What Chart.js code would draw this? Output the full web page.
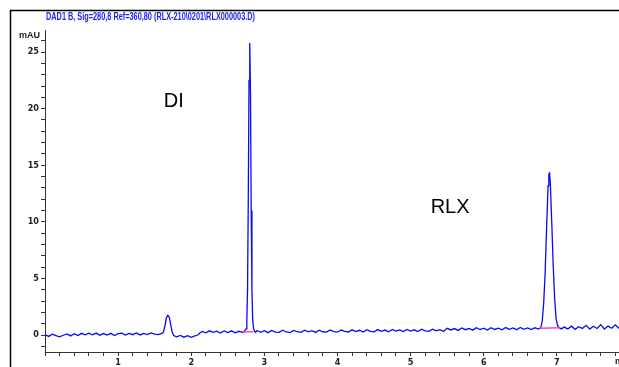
<!DOCTYPE html>
<html>
<head>
<meta charset="utf-8">
<script src="https://cdn.jsdelivr.net/npm/chart.js@4/dist/chart.umd.min.js"></script>
<style>
  html, body { margin: 0; padding: 0; background: #fff; }
  #wrap { width: 619px; height: 367px; }
</style>
</head>
<body>
<div id="wrap"><canvas id="mycanvas" width="619" height="367"></canvas></div>
<script>
// chromatogram trace (min / mAU)
var timeMin = [
    0.00, 0.05, 0.10, 0.15, 0.20, 0.25, 0.30, 0.35, 0.40, 0.45, 0.50, 0.55, 0.60, 0.65, 0.70, 0.75,
    0.80, 0.85, 0.90, 0.95, 1.00, 1.05, 1.10, 1.15, 1.20, 1.25, 1.30, 1.35, 1.40, 1.45, 1.50, 1.55,
    1.60, 1.62, 1.64, 1.66, 1.68, 1.70, 1.72, 1.74, 1.76, 1.80, 1.85, 1.90, 1.95, 2.00, 2.05, 2.08,
    2.10, 2.12, 2.15, 2.20, 2.25, 2.30, 2.35, 2.40, 2.45, 2.50, 2.55, 2.60, 2.65, 2.70,
    2.73, 2.75, 2.76, 2.77, 2.78, 2.79, 2.80, 2.81, 2.82, 2.83, 2.84, 2.85, 2.86, 2.88,
    2.90, 2.95, 3.00, 3.05, 3.10, 3.15, 3.20, 3.25, 3.30, 3.35, 3.40, 3.45, 3.50, 3.55, 3.60, 3.65,
    3.70, 3.75, 3.80, 3.85, 3.90, 3.95, 4.00, 4.05, 4.10, 4.15, 4.20, 4.25, 4.30, 4.35, 4.40, 4.45,
    4.50, 4.55, 4.60, 4.65, 4.70, 4.75, 4.80, 4.85, 4.90, 4.95, 5.00, 5.05, 5.10, 5.15, 5.20, 5.25,
    5.30, 5.35, 5.40, 5.45, 5.50, 5.55, 5.60, 5.65, 5.70, 5.75, 5.80, 5.85, 5.90, 5.95, 6.00, 6.05,
    6.10, 6.15, 6.20, 6.25, 6.30, 6.35, 6.40, 6.45, 6.50, 6.55, 6.60, 6.65, 6.70, 6.75,
    6.78, 6.80, 6.82, 6.84, 6.86, 6.88, 6.89, 6.90, 6.91, 6.93, 6.95, 6.97, 6.99, 7.01, 7.03, 7.06,
    7.10, 7.15, 7.20, 7.25, 7.30, 7.35, 7.40, 7.45, 7.50, 7.55, 7.60, 7.65, 7.70, 7.75, 7.80, 7.85
];
var signalMAU = [
    0.05, -0.12, 0.08, -0.06, -0.16, -0.02, 0.09, -0.08, 0.12, -0.04, 0.15, 0.01, 0.16, 0.02, 0.17, -0.03,
    0.13, 0.00, 0.15, -0.04, 0.12, 0.16, -0.01, 0.14, 0.03, 0.18, 0.01, 0.15, 0.04, 0.19, 0.08, 0.03,
    0.14, 0.25, 0.80, 1.50, 1.75, 1.55, 0.90, 0.25, -0.05, -0.16, -0.03, -0.19, -0.06, -0.21, -0.08, -0.02,
    0.05, 0.20, 0.32, 0.19, 0.37, 0.23, 0.34, 0.18, 0.36, 0.22, 0.37, 0.20, 0.33, 0.24,
    0.35, 0.55, 1.20, 4.00, 12.0, 22.5, 25.8, 21.5, 11.0, 4.00, 1.40, 0.70, 0.40, 0.25,
    0.40, 0.24, 0.38, 0.21, 0.41, 0.26, 0.23, 0.42, 0.27, 0.22, 0.40, 0.29, 0.24, 0.43, 0.28, 0.39,
    0.23, 0.42, 0.29, 0.26, 0.45, 0.30, 0.25, 0.44, 0.32, 0.27, 0.46, 0.31, 0.42, 0.26, 0.47, 0.32,
    0.29, 0.48, 0.33, 0.44, 0.28, 0.49, 0.34, 0.45, 0.30, 0.50, 0.35, 0.46, 0.31, 0.51, 0.36, 0.33,
    0.52, 0.37, 0.48, 0.32, 0.59, 0.45, 0.57, 0.41, 0.62, 0.47, 0.58, 0.43, 0.64, 0.48, 0.60, 0.44,
    0.65, 0.49, 0.61, 0.46, 0.66, 0.50, 0.62, 0.47, 0.67, 0.51, 0.63, 0.48, 0.64, 0.52,
    0.65, 1.20, 2.80, 5.50, 9.50, 13.2, 14.2, 14.3, 13.5, 10.0, 6.20, 3.20, 1.40, 0.85, 0.65, 0.54,
    0.70, 0.54, 0.78, 0.50, 0.74, 0.57, 0.86, 0.52, 0.77, 0.58, 0.92, 0.53, 0.79, 0.60, 0.90, 0.58
];

// integration baselines under the two peaks
var diBaseTime = [2.71, 2.85];
var diBaseMAU = [0.27, 0.28];
var rlxBaseTime = [6.77, 7.04];
var rlxBaseMAU = [0.60, 0.65];

// peak names and where they sit (min, mAU)
var peakNames = ["DI", "RLX"];
var peakLabelTime = [1.76, 5.54];
var peakLabelMAU = [20.6, 11.3];

var headerText = "DAD1 B, Sig=280,8 Ref=360,80 (RLX-210\\0201\\RLX000003.D)";

function pairs(xs, ys) {
    var out = [];
    for (var i = 0; i < xs.length; i++) {
        out.push({ x: xs[i], y: ys[i] });
    }
    return out;
}

var tickFont = { family: "'Liberation Sans Narrow', 'DejaVu Sans Condensed', sans-serif", size: 9, weight: "bold" };

var decorations = {
    id: "decorations",
    beforeDraw: function (chart) {
        var c = chart.ctx;
        c.save();
        c.fillStyle = "#fff";
        c.fillRect(0, 0, chart.width, chart.height);
        // outer frame
        c.strokeStyle = "#000";
        c.lineWidth = 1.5;
        c.beginPath();
        c.moveTo(10.5, chart.height);
        c.lineTo(10.5, 10.5);
        c.lineTo(chart.width, 10.5);
        c.stroke();
        c.restore();
    },
    afterDraw: function (chart) {
        var c = chart.ctx;
        var xs = chart.scales.x, ys = chart.scales.y;
        c.save();
        // header line
        c.fillStyle = "#2020f0";
        c.font = "bold 10px 'Liberation Sans Narrow', sans-serif";
        c.textBaseline = "middle";
        c.textAlign = "left";
        c.fillText(headerText, 46, 17, 209);
        // unit labels
        c.fillStyle = "#222";
        c.font = "bold 9px 'Liberation Sans Narrow', sans-serif";
        c.textAlign = "right";
        c.fillText("mAU", 40, 36);
        c.textAlign = "left";
        c.fillText("min", 615, 362);
        // peak names
        c.fillStyle = "#000";
        c.font = "20px 'Liberation Sans', Arial, sans-serif";
        c.textAlign = "center";
        for (var i = 0; i < peakNames.length; i++) {
            c.fillText(peakNames[i], xs.getPixelForValue(peakLabelTime[i]), ys.getPixelForValue(peakLabelMAU[i]));
        }
        c.restore();
    }
};

var ctx = document.getElementById("mycanvas");

var chromGraph = new Chart(ctx, {
    type: "line",
    data: {
        datasets: [
            {
                label: "DI baseline",
                data: pairs(diBaseTime, diBaseMAU),
                borderColor: "#ff40d0",
                borderWidth: 1.5,
                pointRadius: 0,
                fill: false
            },
            {
                label: "RLX baseline",
                data: pairs(rlxBaseTime, rlxBaseMAU),
                borderColor: "#ff40d0",
                borderWidth: 1.5,
                pointRadius: 0,
                fill: false
            },
            {
                label: "DAD1 B",
                data: pairs(timeMin, signalMAU),
                borderColor: "#0a0af0",
                borderWidth: 1.3,
                pointRadius: 0,
                lineTension: 0,
                fill: false
            }
        ]
    },
    options: {
        responsive: false,
        animation: false,
        events: [],
        layout: { padding: { left: 10, top: 30, right: 0, bottom: 0 } },
        plugins: { legend: { display: false }, tooltip: { enabled: false } },
        scales: {
            x: {
                type: "linear",
                min: 0,
                max: 7.85,
                afterFit: function (scale) { scale.height = 15; },
                border: { color: "#333", width: 1 },
                grid: { display: true, drawOnChartArea: false, drawTicks: true, tickLength: 4, color: "#333" },
                ticks: {
                    stepSize: 0.2,
                    autoSkip: false,
                    maxRotation: 0,
                    includeBounds: false,
                    padding: 1,
                    color: "#222",
                    font: tickFont,
                    callback: function (v) {
                        var r = Math.round(v);
                        return (Math.abs(v - r) < 1e-6 && r > 0) ? String(r) : "";
                    }
                }
            },
            y: {
                type: "linear",
                min: -1.5,
                max: 26.95,
                afterFit: function (scale) { scale.width = 35; },
                border: { color: "#333", width: 1 },
                grid: { display: true, drawOnChartArea: false, drawTicks: true, tickLength: 4, color: "#333" },
                ticks: {
                    stepSize: 1,
                    autoSkip: false,
                    includeBounds: false,
                    padding: 2,
                    color: "#222",
                    font: tickFont,
                    callback: function (v) {
                        var r = Math.round(v);
                        return (Math.abs(v - r) < 1e-6 && r % 5 === 0) ? String(r) : "";
                    }
                }
            }
        }
    },
    plugins: [decorations]
});
</script>
</body>
</html>
